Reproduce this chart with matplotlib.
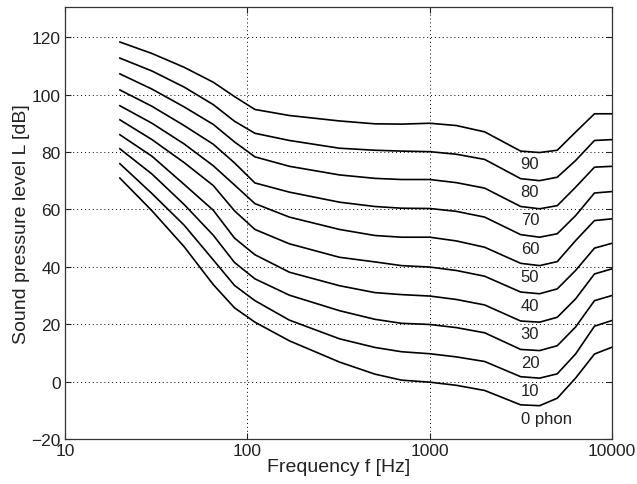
import matplotlib
matplotlib.use("Agg")
import matplotlib.pyplot as plt
from matplotlib.ticker import FixedLocator, FixedFormatter, NullLocator

plt.rcParams['font.family'] = ['Liberation Sans', 'DejaVu Sans']

# Frequencies of the contour vertices [Hz]
freqs = [20, 30, 45, 65, 85, 110, 170, 320, 500, 700, 1000, 1400, 2000,
         3150, 4000, 5000, 6300, 8000, 10000]

# Sound pressure level [dB] for each loudness level (phon)
phon_0  = [70.9, 59.5, 47.0, 33.8, 25.7, 20.7, 14.2, 6.8, 2.6, 0.5, -0.2, -1.3, -3.1,
           -8.1, -8.4, -5.8, 1.2, 9.6, 12.0]
phon_10 = [75.9, 65.5, 54.5, 42.4, 33.5, 28.2, 21.4, 14.9, 11.9, 10.4, 9.7, 8.6, 7.0,
           1.7, 1.2, 2.7, 9.6, 19.3, 21.3]
phon_20 = [81.1, 72.3, 61.7, 51.0, 41.5, 35.8, 30.1, 24.7, 21.7, 20.3, 19.9, 18.8, 17.0,
           11.2, 10.8, 12.5, 19.0, 28.2, 30.0]
phon_30 = [86.0, 78.5, 68.7, 59.7, 50.0, 44.2, 38.1, 33.4, 31.0, 30.3, 29.8, 28.6, 26.7,
           21.1, 20.7, 22.4, 28.8, 37.5, 39.3]
phon_40 = [91.2, 84.3, 76.3, 68.3, 59.5, 53.0, 48.0, 43.3, 41.7, 40.4, 39.9, 38.7, 36.7,
           31.2, 30.6, 32.3, 38.7, 46.5, 48.2]
phon_50 = [96.1, 90.0, 82.8, 75.2, 68.5, 62.0, 57.3, 53.0, 50.9, 50.3, 50.3, 49.0, 46.8,
           41.2, 40.4, 41.8, 49.1, 56.1, 56.7]
phon_60 = [101.6, 95.9, 89.2, 82.7, 76.2, 69.2, 66.0, 62.5, 61.0, 60.4, 60.3, 59.3, 57.3,
           51.2, 50.3, 51.5, 57.8, 65.7, 66.2]
phon_70 = [107.2, 101.9, 95.7, 89.6, 83.5, 78.3, 75.0, 72.0, 70.8, 70.4, 70.4, 69.3, 67.4,
           61.0, 60.2, 61.3, 67.7, 74.7, 75.0]
phon_80 = [112.7, 108.2, 102.6, 96.5, 90.7, 86.5, 84.0, 81.3, 80.6, 80.3, 80.1, 79.2, 77.4,
           70.7, 70.0, 71.2, 77.0, 84.0, 84.3]
phon_90 = [118.3, 114.3, 109.5, 104.3, 99.3, 94.8, 92.7, 90.8, 89.8, 89.7, 90.0, 89.2, 87.0,
           80.3, 79.8, 80.6, 86.9, 93.3, 93.3]

levels = [0, 10, 20, 30, 40, 50, 60, 70, 80, 90]
curves = [phon_0, phon_10, phon_20, phon_30, phon_40, phon_50, phon_60, phon_70,
          phon_80, phon_90]
curve_labels = ['0 phon', '10', '20', '30', '40', '50', '60', '70', '80', '90']

x_ticks = [10, 100, 1000, 10000]
x_tick_labels = ['10', '100', '1000', '10000']
y_ticks = [-20, 0, 20, 40, 60, 80, 100, 120]

fig = plt.figure(figsize=(6.37, 4.85), dpi=100)
ax = fig.add_axes([0.102, 0.0928, 0.859, 0.8907])

for lvl, vals in zip(levels, curves):
    ax.plot(freqs, vals, color='black', lw=1.2, solid_joinstyle='round')

for lvl, lab in zip(levels, curve_labels):
    ax.text(3150, lvl * 0.99 - 13.0, lab, fontsize=12, color='#222222',
            ha='left', va='center')

ax.set_xscale('log')
ax.set_xlim(10, 10000)
ax.set_ylim(-20, 130.5)
ax.xaxis.set_major_locator(FixedLocator(x_ticks))
ax.xaxis.set_major_formatter(FixedFormatter(x_tick_labels))
ax.xaxis.set_minor_locator(NullLocator())
ax.set_yticks(y_ticks)
ax.set_yticklabels([('\u2212' + str(-v)) if v < 0 else str(v) for v in y_ticks])

ax.grid(True, which='major', color='black', linestyle=(0, (1, 3)), lw=0.7)
ax.tick_params(direction='in', top=True, right=True, labelsize=12.5, length=4,
               colors='#222222', pad=3)
for s in ax.spines.values():
    s.set_linewidth(0.9)
    s.set_color('#333333')

ax.set_xlabel('Frequency f [Hz]', fontsize=14, color='#222222', labelpad=0)
ax.set_ylabel('Sound pressure level L [dB]', fontsize=14, color='#222222', labelpad=1)

fig.savefig('out.png', dpi=100)
